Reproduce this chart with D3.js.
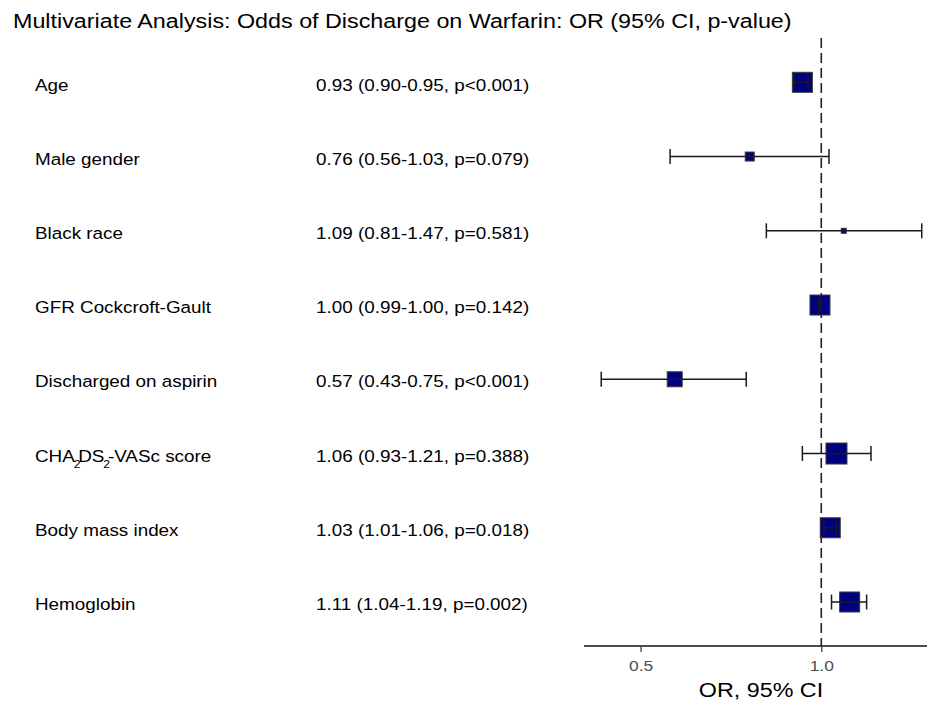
<!DOCTYPE html>
<html>
<head>
<meta charset="utf-8">
<script src="https://cdn.jsdelivr.net/npm/d3@7"></script>
<style>
  body { margin: 0; background: #fff; }
  text { font-family: "Liberation Sans", Arial, sans-serif; }
</style>
</head>
<body>
<svg id="forest" width="927" height="701"></svg>
<script>
const labels = ["Age", "Male gender", "Black race", "GFR Cockcroft-Gault",
    "Discharged on aspirin", "CHADS-VASc score", "Body mass index", "Hemoglobin"];
const orText = [
    "0.93 (0.90-0.95, p<0.001)",
    "0.76 (0.56-1.03, p=0.079)",
    "1.09 (0.81-1.47, p=0.581)",
    "1.00 (0.99-1.00, p=0.142)",
    "0.57 (0.43-0.75, p<0.001)",
    "1.06 (0.93-1.21, p=0.388)",
    "1.03 (1.01-1.06, p=0.018)",
    "1.11 (1.04-1.19, p=0.002)"
];
// point estimate and limits as drawn
const or = [0.93, 0.76, 1.09, 0.995, 0.57, 1.06, 1.035, 1.115];
const lower = [0.90, 0.56, 0.81, 0.99, 0.43, 0.93, 1.01, 1.04];
const upper = [0.95, 1.03, 1.47, 1.00, 0.75, 1.21, 1.06, 1.19];
// box weight (side of square in px)
const boxSize = [20, 9, 5, 20, 15, 21, 20, 20];
const xTicks = [0.5, 1.0];

const svg = d3.select("#forest");
const width = +svg.attr("width");
const height = +svg.attr("height");

const plot = { left: 584, right: 927, top: 38, bottom: 646 };
const stretch = 1.11; // the original is a bit wide

const x = d3.scaleLog()
    .domain([0.4025, 1.5])
    .range([plot.left, plot.right]);

const y = d3.scalePoint()
    .domain(labels)
    .range([82.3, 602]);

// title
svg.append("text")
    .attr("transform", `translate(13,28.3) scale(${stretch},1)`)
    .style("font-size", "21px")
    .style("fill", "#000")
    .text("Multivariate Analysis: Odds of Discharge on Warfarin: OR (95% CI, p-value)");

// row labels
const labelText = svg.append("g").selectAll("text")
    .data(labels)
    .enter().append("text")
    .attr("transform", d => `translate(35,${y(d) + 8.2}) scale(${stretch},1)`)
    .style("font-size", "17px");

labelText.each(function (d) {
    const t = d3.select(this);
    if (d === "CHADS-VASc score") {
        // CHA2DS2-VASc with subscripts
        t.append("tspan").text("CHA");
        t.append("tspan").text("2").style("font-size", "11px").attr("dy", 6).attr("dx", -1);
        t.append("tspan").text("DS").attr("dy", -6).attr("dx", -2);
        t.append("tspan").text("2").style("font-size", "11px").attr("dy", 6).attr("dx", -1);
        t.append("tspan").text("-VASc score").attr("dy", -6).attr("dx", -2);
    } else {
        t.text(d);
    }
});

// OR (CI, p) column
svg.append("g").selectAll("text")
    .data(orText)
    .enter().append("text")
    .attr("transform", (d, i) => `translate(316,${y(labels[i]) + 8.2}) scale(${stretch},1)`)
    .style("font-size", "17px")
    .text(d => d);

// reference line at OR = 1
svg.append("line")
    .attr("x1", x(1)).attr("x2", x(1))
    .attr("y1", plot.top).attr("y2", plot.bottom)
    .style("stroke", "#222")
    .style("stroke-width", 1.6)
    .style("stroke-dasharray", "10,5");

// x axis
const axis = svg.append("g")
    .attr("transform", `translate(0,${plot.bottom})`)
    .call(d3.axisBottom(x).tickValues(xTicks).tickFormat(d3.format(".1f")).tickSize(6).tickPadding(8));

axis.select(".domain").style("stroke", "#111").style("stroke-width", 1.4)
    .attr("d", `M${plot.left},0H${plot.right}`);
axis.selectAll(".tick line").style("stroke", "#333").style("stroke-width", 1.2);
axis.selectAll(".tick text")
    .attr("transform", `scale(${stretch + 0.05},1)`)
    .style("font-family", "'Liberation Sans', Arial, sans-serif")
    .style("font-size", "15px")
    .style("fill", "#4d4d4d");

svg.append("text")
    .attr("transform", `translate(761,697) scale(${stretch},1)`)
    .attr("text-anchor", "middle")
    .style("font-size", "21px")
    .text("OR, 95% CI");

// rows: squares, whiskers, caps
const rows = svg.append("g").selectAll("g")
    .data(labels)
    .enter().append("g")
    .attr("transform", d => `translate(0,${y(d)})`);

rows.append("rect")
    .attr("x", (d, i) => x(or[i]) - boxSize[i] / 2)
    .attr("y", (d, i) => -boxSize[i] / 2)
    .attr("width", (d, i) => boxSize[i])
    .attr("height", (d, i) => boxSize[i])
    .style("fill", "#000080")
    .style("stroke", "#3a3a3a")
    .style("stroke-width", 1);

rows.append("line")
    .attr("x1", (d, i) => x(lower[i]))
    .attr("x2", (d, i) => x(upper[i]))
    .style("stroke", "#1a1a1a")
    .style("stroke-width", 1.5);

const capH = 7.5;
rows.append("line")
    .attr("x1", (d, i) => x(lower[i])).attr("x2", (d, i) => x(lower[i]))
    .attr("y1", -capH).attr("y2", capH)
    .style("stroke", "#1a1a1a")
    .style("stroke-width", 1.5);
rows.append("line")
    .attr("x1", (d, i) => x(upper[i])).attr("x2", (d, i) => x(upper[i]))
    .attr("y1", -capH).attr("y2", capH)
    .style("stroke", "#1a1a1a")
    .style("stroke-width", 1.5);
</script>
</body>
</html>
